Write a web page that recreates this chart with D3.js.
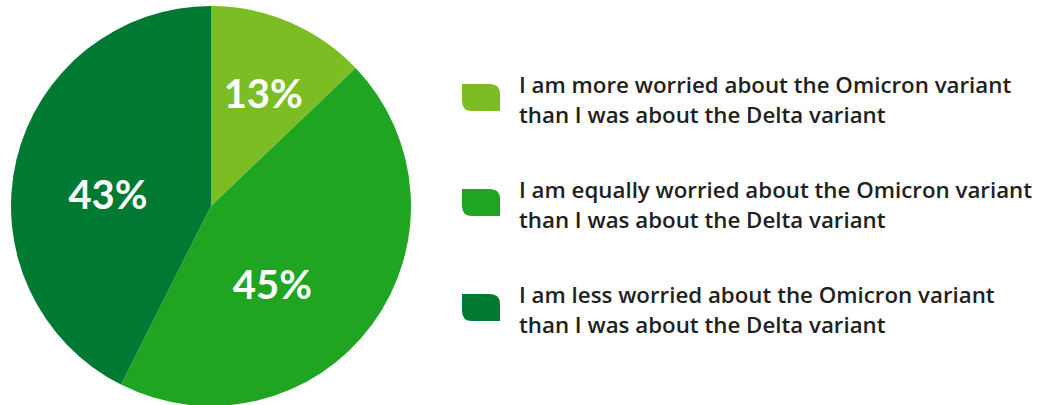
<!DOCTYPE html>
<html>
<head>
<meta charset="utf-8">
<script src="https://cdn.jsdelivr.net/npm/d3@7"></script>
<style>
  html, body { margin: 0; padding: 0; background: #ffffff; }
  svg { display: block; }
</style>
</head>
<body>
<svg id="chart" width="1050" height="405"></svg>
<script>
// Survey responses: worry about Omicron compared with Delta
const categories = [
  ["I am more worried about the Omicron variant", "than I was about the Delta variant"],
  ["I am equally worried about the Omicron variant", "than I was about the Delta variant"],
  ["I am less worried about the Omicron variant", "than I was about the Delta variant"]
];
const shares = [13, 45, 43];
const sliceColors = ["#7cbd24", "#20a522", "#007a33"];

// Layout
const W = 1050, H = 405;
const cx = 211, cy = 206, radius = 200;
const labelRadius = 110;
const labelNudge = [[9, -12], [-27, 13], [4, 13]];
const legendX = 462, legendTop = 84, legendStep = 105;
const swatchW = 38, swatchH = 27, swatchR = 10;
const textX = 519, firstBaseline = 93, lineGap = 30;
const textColor = "#231f20";
const pctFont = "Lato, 'Open Sans', sans-serif";
const legendFont = "'Open Sans', Lato, sans-serif";

const svg = d3.select("#chart");

const pie = d3.pie().sort(null).value(d => d);
const arcs = pie(shares);
const arc = d3.arc().innerRadius(0).outerRadius(radius);
const labelArc = d3.arc().innerRadius(labelRadius).outerRadius(labelRadius);

const g = svg.append("g").attr("transform", `translate(${cx},${cy})`);

g.selectAll("path.slice")
  .data(arcs)
  .join("path")
  .attr("class", "slice")
  .attr("d", arc)
  .attr("fill", (d, i) => sliceColors[i]);

g.selectAll("text.pct")
  .data(arcs)
  .join("text")
  .attr("class", "pct")
  .attr("x", (d, i) => labelArc.centroid(d)[0] + labelNudge[i][0])
  .attr("y", (d, i) => labelArc.centroid(d)[1] + labelNudge[i][1])
  .attr("text-anchor", "middle")
  .attr("dominant-baseline", "central")
  .attr("fill", "#ffffff")
  .attr("font-family", pctFont)
  .attr("font-weight", 700)
  .attr("font-size", 40)
  .text(d => d.data + "%");

// Leaf-shaped swatch: rounded top-right and bottom-left corners
function leaf(w, h, r) {
  return `M0,0 H${w - r} Q${w},0 ${w},${r} V${h} H${r} Q0,${h} 0,${h - r} Z`;
}

const legend = svg.append("g");
const items = legend.selectAll("g.item")
  .data(categories)
  .join("g")
  .attr("class", "item")
  .attr("transform", (d, i) => `translate(0,${i * legendStep})`);

items.append("path")
  .attr("transform", `translate(${legendX},${legendTop})`)
  .attr("d", leaf(swatchW, swatchH, swatchR))
  .attr("fill", (d, i) => sliceColors[i]);

items.each(function(lines) {
  const t = d3.select(this).append("text")
    .attr("fill", textColor)
    .attr("font-family", legendFont)
    .attr("font-weight", 600)
    .attr("font-size", 22.3);
  lines.forEach((line, k) => {
    t.append("tspan")
      .attr("x", textX)
      .attr("y", firstBaseline + k * lineGap)
      .text(line);
  });
});
</script>
</body>
</html>
